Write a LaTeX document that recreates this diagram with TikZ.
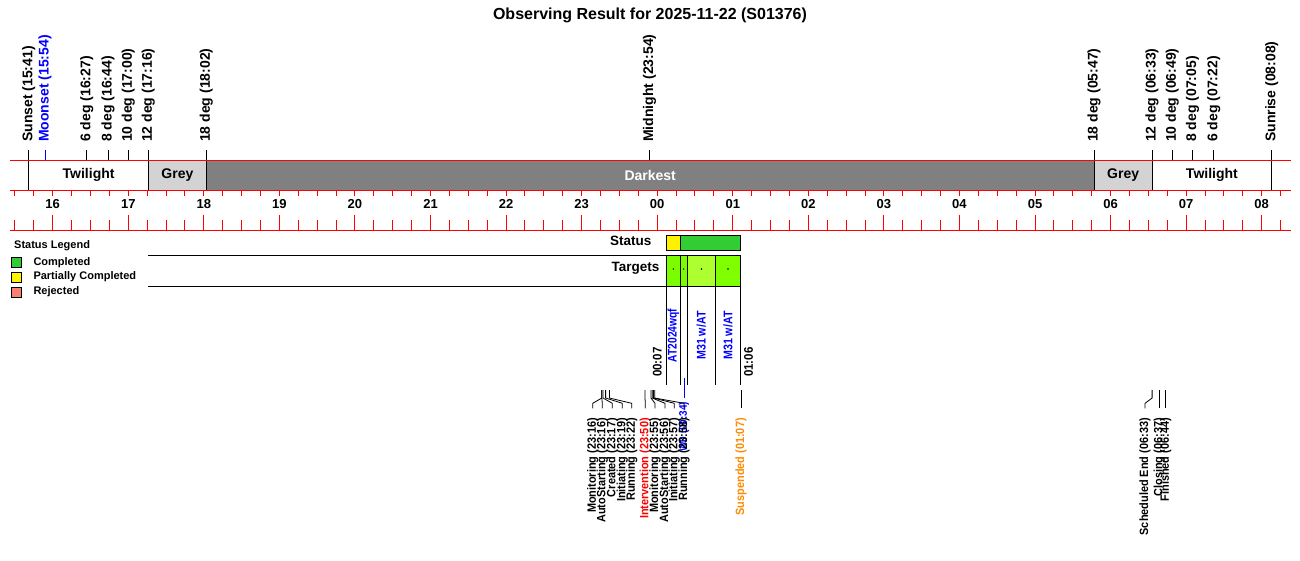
\documentclass[tikz,border=0pt]{standalone}
\usepackage{fontspec}
\setmainfont{Liberation Sans}
\usepackage{graphicx}
\newcommand\fs[1]{\fontsize{#1}{#1}\selectfont\bfseries}
\newcommand\narrow[1]{\scalebox{0.91}[1]{#1}}
\definecolor{darkest}{HTML}{808080}
\definecolor{greyband}{HTML}{D3D3D3}
\definecolor{limeg}{HTML}{32CD32}
\definecolor{lawng}{HTML}{7CFC00}
\definecolor{greenyel}{HTML}{ADFF2F}
\definecolor{chartr}{HTML}{7FFF00}
\definecolor{salmonc}{HTML}{FA8072}
\definecolor{susp}{HTML}{FF8C00}
\tikzset{
  redline/.style={red, line width=1pt},
  blk/.style={black, line width=0.8pt},
  toplab/.style={rotate=90, anchor=west, inner sep=0pt, font=\fs{14}},
  evlab/.style={rotate=90, anchor=east, inner sep=0pt, font=\fs{12}},
  tglab/.style={rotate=90, anchor=center, inner sep=0pt, font=\fs{12.5}, text=blue},
  bandlab/.style={inner sep=0pt, font=\fs{14}},
  legbox/.style={draw=black, line width=0.8pt},
  legtext/.style={anchor=west, inner sep=0pt, font=\fs{11}},
}
\begin{document}
\begin{tikzpicture}[x=1pt,y=-1pt]
\useasboundingbox (0,0) rectangle (1300,560);
\fill[white] (0,0) rectangle (1300,560);
% title
\node[inner sep=0pt, font=\fs{16}] (title) at (650,15) {Observing Result for 2025-11-22 (S01376)};
% band fills
\fill[white] (28.8,160.3) rectangle (148.4,190.7);
\fill[greyband] (148.4,160.3) rectangle (206.3,190.7);
\fill[darkest] (206.3,160.3) rectangle (1094.1,190.7);
\fill[greyband] (1094.1,160.3) rectangle (1152.1,190.7);
\fill[white] (1152.1,160.3) rectangle (1271.7,190.7);
\foreach \x in {28.8,148.4,206.3,1094.1,1152.1,1271.7}
  \draw[blk] (\x,160.3) -- (\x,190.7);
\node[bandlab] (tw1) at (88.6,175) {Twilight};
\node[bandlab] (gr1) at (177.4,175) {Grey};
\node[bandlab, text=white] (dk) at (650.2,175) {Darkest};
\node[bandlab] (gr2) at (1123.1,175) {Grey};
\node[bandlab] (tw2) at (1211.9,175) {Twilight};
% red lines
\draw[redline] (10,160.3) -- (1291,160.3);
\draw[redline] (10,190.7) -- (1291,190.7);
\draw[redline] (10,230) -- (1291,230);
% ticks
\foreach \i in {-2,...,65}{
  \pgfmathsetmacro\x{52.7+18.890625*\i}
  \draw[redline] (\x,190.7) -- (\x,196);
  \pgfmathtruncatemacro\m{mod(\i+8,4)}
  \ifnum\m=0
    \draw[redline] (\x,215) -- (\x,230);
  \else
    \draw[redline] (\x,220) -- (\x,230);
  \fi
}
\foreach \lab [count=\h from 0] in {16,17,18,19,20,21,22,23,00,01,02,03,04,05,06,07,08}{
  \pgfmathsetmacro\x{52.7+75.5625*\h}
  \node[inner sep=0pt, font=\fs{13}] at (\x,204) {\lab};
}
% top labels
\foreach \x/\t in {28.8/Sunset (15:41),86.7/6 deg (16:27),108.1/8 deg (16:44),128.3/10 deg (17:00),148.4/12 deg (17:16),206.3/18 deg (18:02),649.6/Midnight (23:54),1094.1/18 deg (05:47),1152.1/12 deg (06:33),1172.2/10 deg (06:49),1192.4/8 deg (07:05),1213.8/6 deg (07:22),1271.7/Sunrise (08:08)}{
  \draw[blk] (\x,150) -- (\x,160.3);
  \node[toplab] at (\x,142) {\t};
}
\draw[blue, line width=0.8pt] (45.1,150) -- (45.1,160.3);
\node[toplab, text=blue] (moonset) at (45.1,142) {Moonset (15:54)};
% legend
\node[legtext] (leg) at (14,246) {Status Legend};
\draw[legbox, fill=limeg] (11,257.5) rectangle (21,267);
\node[legtext] (lc) at (33.3,262.3) {Completed};
\draw[legbox, fill=yellow] (11,272.5) rectangle (21,282);
\node[legtext] (lp) at (33.3,277) {Partially Completed};
\draw[legbox, fill=salmonc] (11,287.5) rectangle (21,297);
\node[legtext] (lr) at (33.3,292) {Rejected};
% status and targets
\node[anchor=east, inner sep=0pt, font=\fs{13.5}] (st) at (651.5,241) {Status};
\node[anchor=east, inner sep=0pt, font=\fs{13.5}] (tg) at (659.5,268.5) {Targets};
\draw[blk] (148,255) -- (666.5,255);
\draw[blk] (148,286) -- (666.5,286);
\draw[blk, fill=yellow] (666.5,235.7) rectangle (680,250);
\draw[blk, fill=limeg] (680,235.7) rectangle (740.3,250);
\draw[blk, fill=lawng] (666.5,255) rectangle (680,286);
\draw[blk, fill=lawng] (680,255) rectangle (687.3,286);
\draw[blk, fill=greenyel] (687.3,255) rectangle (715.7,286);
\draw[blk, fill=chartr] (715.7,255) rectangle (740.3,286);
\foreach \x in {673.3,683.6,701.5,728}
  \fill (\x,269) circle (0.8);
\foreach \x in {666.5,680,687.3,715.7,740.3}
  \draw[blk] (\x,286) -- (\x,385);
\node[tglab] (t1) at (673.5,335.5) {\scalebox{0.82}[1]{AT2024wqf}};
\node[tglab] (t3) at (701.3,335.5) {\scalebox{0.85}[1]{M31 w/AT}};
\node[tglab] (t4) at (728,335.5) {\scalebox{0.85}[1]{M31 w/AT}};
\node[rotate=90, anchor=west, inner sep=0pt, font=\fs{12.5}] (s0) at (657.3,377) {\scalebox{0.92}[1]{00:07}};
\node[rotate=90, anchor=west, inner sep=0pt, font=\fs{12.5}] (s1) at (748.5,377) {\scalebox{0.92}[1]{01:06}};
% second target label (below)
\draw[blue, line width=0.8pt] (684,378) -- (684,398);
\node[rotate=90, anchor=east, inner sep=0pt, font=\fs{11}, text=blue] (t2) at (684,401.5) {\narrow{W0 (00:34)}};
% events
\foreach \ex/\lx/\t/\c in {601.8/592.7/Monitoring (23:16)/black,601.8/602.3/AutoStarting (23:16)/black,603.0/612.3/Created (23:17)/black,605.6/622.3/Initiating (23:19)/black,609.4/631.7/Running (23:22)/black,645.0/645.3/Intervention (23:50)/red,650.9/655.0/Monitoring (23:55)/black,652.2/665.0/AutoStarting (23:56)/black,653.4/674.3/Initiating (23:57)/black,654.7/684.0/Running (23:58)/black,741/741/Suspended (01:07)/susp,1152.1/1145/Scheduled End (06:33)/black,1159.3/1159.3/Closing (06:37)/black,1165.8/1165.8/Finished (06:44)/black}{
  \draw[blk] (\ex,390) -- (\ex,398) -- (\lx,403.3) -- (\lx,408.3);
  \node[evlab, text=\c] at (\lx,418) {\narrow{\t}};
}
\end{tikzpicture}
\end{document}
